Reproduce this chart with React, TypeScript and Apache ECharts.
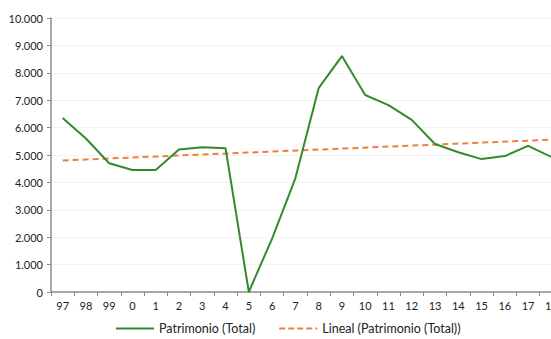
import React, { useEffect, useRef } from "react";
import * as echarts from "echarts";

const categories = ["97", "98", "99", "0", "1", "2", "3", "4", "5", "6", "7", "8", "9", "10", "11", "12", "13", "14", "15", "16", "17", "18"];
const patrimonio = [6350, 5600, 4700, 4450, 4450, 5200, 5280, 5250, 0, 1950, 4150, 7440, 8610, 7190, 6820, 6280, 5400, 5100, 4850, 4960, 5330, 4930];
const trendStart = 4800;
const trendEnd = 5560;
const yTicks = [0, 1000, 2000, 3000, 4000, 5000, 6000, 7000, 8000, 9000, 10000];

const fmt = (v: number) => String(v).replace(/\B(?=(\d{3})+(?!\d))/g, ".");

export default function App() {
  const ref = useRef<HTMLDivElement>(null);
  useEffect(() => {
    if (!ref.current) return;
    const chart = echarts.init(ref.current, null, { renderer: "svg" });
    const trend = categories.map((_, i) => (i === 0 ? trendStart : i === categories.length - 1 ? trendEnd : null));
    const font = "Lato, 'DejaVu Sans', sans-serif";
    chart.setOption({
      animation: false,
      textStyle: { fontFamily: font },
      grid: { left: 51, right: 0, top: 18, bottom: 47, containLabel: false },
      legend: {
        top: 322,
        left: 116,
        width: 440,
        padding: 0,
        itemWidth: 38,
        itemHeight: 10,
        itemGap: 24,
        textStyle: { fontSize: 12.5, lineHeight: 13, color: "#222", fontFamily: font },
        data: [
          { name: "Patrimonio (Total)", icon: "path://M0,4 L38,4 L38,6 L0,6 Z", itemStyle: { color: "#338a2e" } },
          { name: "Lineal (Patrimonio (Total))", icon: "path://M0,4 L6,4 L6,6 L0,6 Z M9,4 L15,4 L15,6 L9,6 Z M18,4 L24,4 L24,6 L18,6 Z M27,4 L33,4 L33,6 L27,6 Z M36,4 L38,4 L38,6 L36,6 Z", itemStyle: { color: "#f07f3c" } },
        ],
      },
      xAxis: {
        type: "category",
        data: categories,
        boundaryGap: true,
        axisLine: { lineStyle: { color: "#8c8c8c", width: 1.5 } },
        axisTick: { show: true, alignWithLabel: false, length: 4, lineStyle: { color: "#8c8c8c" } },
        axisLabel: { color: "#222", fontSize: 11, margin: 8, interval: 0, fontFamily: font },
      },
      yAxis: {
        type: "value",
        min: yTicks[0],
        max: yTicks[yTicks.length - 1],
        interval: 1000,
        axisLine: { show: true, lineStyle: { color: "#8c8c8c", width: 1.5 } },
        axisTick: { show: true, length: 4, lineStyle: { color: "#8c8c8c" } },
        axisLabel: { color: "#222", fontSize: 11, margin: 8, formatter: (v: number) => fmt(v), fontFamily: font },
        splitLine: { show: true, lineStyle: { color: "#f2f2f2", width: 1 } },
      },
      series: [
        {
          name: "Patrimonio (Total)",
          type: "line",
          data: patrimonio,
          symbol: "none",
          lineStyle: { color: "#338a2e", width: 2 },
          itemStyle: { color: "#338a2e" },
          z: 3,
        },
        {
          name: "Lineal (Patrimonio (Total))",
          type: "line",
          data: trend,
          connectNulls: true,
          symbol: "none",
          lineStyle: { color: "#f07f3c", width: 2, type: [6, 4] },
          itemStyle: { color: "#f07f3c" },
          z: 2,
        },
      ],
    });
    return () => chart.dispose();
  }, []);
  return (
    <div style={{ position: "fixed", left: 0, top: 0, width: 551, height: 339, overflow: "hidden", background: "#fff" }}>
      <div ref={ref} style={{ width: 563, height: 339 }} />
    </div>
  );
}
